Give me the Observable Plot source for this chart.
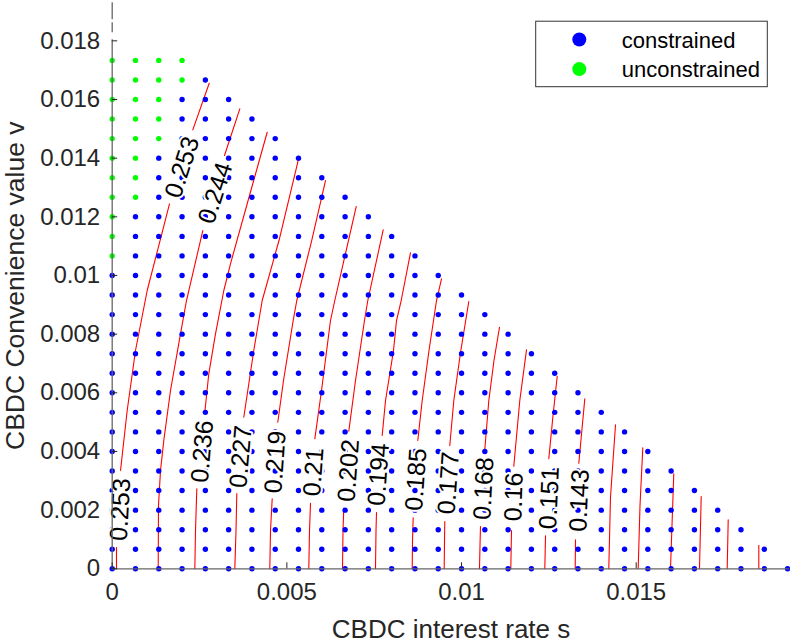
<!DOCTYPE html>
<html><head><meta charset="utf-8">
<script src="https://cdn.jsdelivr.net/npm/d3@7"></script>
<script src="https://cdn.jsdelivr.net/npm/@observablehq/plot@0.6"></script>
<style>
body{margin:0;background:#fff;}
#wrap{position:relative;width:790px;height:644px;}
#legend{position:absolute;left:0;top:0;pointer-events:none;}
</style></head><body><div id="wrap"></div>
<script>
// ---- grid of (s, v) points ----
const sValues = [0, 0.000667, 0.001333, 0.002, 0.002667, 0.003333, 0.004, 0.004667, 0.005333, 0.006,
  0.006667, 0.007333, 0.008, 0.008667, 0.009333, 0.01, 0.010667, 0.011333, 0.012, 0.012667,
  0.013333, 0.014, 0.014667, 0.015333, 0.016, 0.016667, 0.017333, 0.018, 0.018667, 0.019333];
const vValues = [0, 0.000667, 0.001333, 0.002, 0.002667, 0.003333, 0.004, 0.004667, 0.005333, 0.006,
  0.006667, 0.007333, 0.008, 0.008667, 0.009333, 0.01, 0.010667, 0.011333, 0.012, 0.012667,
  0.013333, 0.014, 0.014667, 0.015333, 0.016, 0.016667, 0.017333];
// highest row index present in each column
const columnTopRow = [26, 26, 26, 26, 25, 24, 23, 22, 21, 20, 19, 18, 17, 16, 15, 14, 13, 12, 11, 10, 9, 8, 7, 6, 5, 4, 3, 2, 1, 0];
// first unconstrained row in the leftmost columns
const unconstrainedFromRow = [16, 19, 22, 25];

// ---- contour lines (level, segments broken by labels) ----
const contourLevels = [0.253, 0.244, 0.236, 0.227, 0.219, 0.21, 0.202, 0.194, 0.185, 0.177, 0.168, 0.16, 0.151, 0.143, 0.134, 0.126, 0.117, 0.109, 0.1, 0.092];
const contourSegments = [
  [[[0.000123,0],[0.000123,0.000726]],
   [[0.000238,0.003351],[0.000429,0.005397],[0.000667,0.007442],[0.001002,0.009488],[0.001297,0.010851],[0.001640,0.012443]],
   [[0.002307,0.014966],[0.002777,0.016555]]],
  [[[0.001317,0],[0.001325,0.002158],[0.001383,0.003351],[0.001477,0.004374],[0.001669,0.006078],[0.001955,0.008011],[0.002127,0.009147],[0.002594,0.011533]],
   [[0.003215,0.014090],[0.003653,0.015682]]],
  [[[0.002365,0],[0.002385,0.001306],[0.002422,0.002727]],
   [[0.002651,0.005339],[0.002765,0.006648],[0.002957,0.008011],[0.003195,0.009488],[0.003386,0.010398],[0.003970,0.012897],[0.004437,0.014884]]],
  [[[0.003510,0],[0.003544,0.001306],[0.003567,0.002567]],
   [[0.003767,0.005168],[0.004053,0.007442],[0.004294,0.009147],[0.004775,0.011192],[0.005342,0.014011]]],
  [[[0.004511,0],[0.004532,0.001306],[0.004580,0.002386]],
   [[0.004740,0.004998],[0.004904,0.006419],[0.005181,0.008465],[0.005284,0.009147],[0.005711,0.011192],[0.006106,0.013238]]],
  [[[0.005628,0],[0.005648,0.001306],[0.005677,0.002236]],
   [[0.005800,0.004432],[0.005992,0.006078],[0.006249,0.008465],[0.006372,0.009147],[0.006678,0.010749],[0.006985,0.012351]]],
  [[[0.006593,0],[0.006607,0.001306],[0.006630,0.002066]],
   [[0.006773,0.004691],[0.006965,0.006419],[0.007222,0.008465],[0.007317,0.009147],[0.007758,0.011557]]],
  [[[0.007537,0],[0.007552,0.001306],[0.007566,0.001919]],
   [[0.007729,0.004544],[0.007824,0.005737],[0.008053,0.007442],[0.008139,0.008465],[0.008273,0.009147],[0.008539,0.010773]]],
  [[[0.008588,0],[0.008597,0.000965],[0.008616,0.001739]],
   [[0.008748,0.004374],[0.008874,0.005737],[0.009069,0.007442],[0.009284,0.009147],[0.009427,0.009886]]],
  [[[0.009504,0],[0.009513,0.000965],[0.009521,0.001613]],
   [[0.009664,0.004203],[0.009779,0.005737],[0.009971,0.007374],[0.010208,0.009112]]],
  [[[0.010514,0],[0.010529,0.000794],[0.010543,0.001442]],
   [[0.010666,0.004057],[0.010781,0.005737],[0.010929,0.007101],[0.011087,0.008236]]],
  [[[0.011410,0],[0.011431,0.001306]],
   [[0.011496,0.003498],[0.011668,0.005737],[0.011860,0.007466]]],
  [[[0.012384,0],[0.012404,0.001125]],
   [[0.012498,0.003750],[0.012619,0.005226],[0.012739,0.006566]]],
  [[[0.013254,0],[0.013263,0.000989]],
   [[0.013357,0.003600],[0.013529,0.005795]]],
  [[[0.014216,0],[0.014264,0.002441],[0.014408,0.004909]]],
  [[[0.015057,0],[0.015109,0.002158],[0.015189,0.004125]]],
  [[[0.015982,0],[0.016076,0.003239]]],
  [[[0.016812,0],[0.016861,0.002465]]],
  [[[0.017605,0],[0.017634,0.001670]]],
  [[[0.018510,0],[0.018510,0.000794]]]
];

// ---- contour labels ----
const labelTexts = ["0.253", "0.253", "0.244", "0.236", "0.227", "0.219", "0.21", "0.202", "0.194", "0.185", "0.177", "0.168", "0.16", "0.151", "0.143"];
const labelS = [0.000238, 0.002004, 0.002957, 0.002585, 0.003687, 0.004675, 0.005771, 0.006773, 0.007632, 0.008702, 0.009636, 0.010638, 0.011502, 0.012518, 0.013377];
const labelV = [0.002022, 0.013691, 0.012811, 0.003999, 0.003828, 0.003641, 0.003300, 0.003351, 0.003215, 0.003044, 0.002925, 0.002738, 0.002448, 0.002414, 0.002328];
const labelAngle = [-87, -72, -72, -85, -85, -86, -86, -86, -86, -86, -86, -87, -88, -87.5, -87.5];

// ---- axes ----
const xTicks = [0, 0.005, 0.01, 0.015];
const xTickLabels = ["0", "0.005", "0.01", "0.015"];
const yTicks = [0, 0.002, 0.004, 0.006, 0.008, 0.01, 0.012, 0.014, 0.016, 0.018];
const yTickLabels = ["0", "0.002", "0.004", "0.006", "0.008", "0.01", "0.012", "0.014", "0.016", "0.018"];
const xLabel = "CBDC interest rate s";
const yLabel = "CBDC Convenience value v";
const legendLabels = ["constrained", "unconstrained"];
const legendColors = ["#0000ff", "#00ff00"];

// ---- build tables ----
const dots = [];
sValues.forEach((s, i) => {
  for (let j = 0; j <= columnTopRow[i]; j++) {
    const from = unconstrainedFromRow[i];
    dots.push({s, v: vValues[j], constrained: from === undefined || j < from});
  }
});
const contourRows = [];
contourSegments.forEach((segs, li) => {
  segs.forEach((seg, si) => {
    seg.forEach(([s, v]) => contourRows.push({s, v, level: contourLevels[li], seg: li + "-" + si}));
  });
});
const labelRows = labelTexts.map((t, i) => ({text: t, s: labelS[i], v: labelV[i], angle: labelAngle[i]}));
const xFmt = new Map(xTicks.map((t, i) => [t, xTickLabels[i]]));
const yFmt = new Map(yTicks.map((t, i) => [t, yTickLabels[i]]));

const font = "'Liberation Sans', Arial, Helvetica, sans-serif";
const axisColor = "#262626";

const chart = Plot.plot({
  width: 790, height: 644,
  marginLeft: 111.7, marginRight: 0.6, marginTop: 2.2, marginBottom: 75.7,
  x: {domain: [0, 0.0194]},
  y: {domain: [0, 0.0193]},
  color: {type: "identity"},
  style: {fontFamily: font, background: "white", color: axisColor, overflow: "visible"},
  marks: [
    Plot.line(contourRows, {x: "s", y: "v", z: "seg", stroke: "#ff0000", strokeWidth: 1.1}),
    Plot.dot(dots, {x: "s", y: "v", r: 2.7, fill: d => d.constrained ? legendColors[0] : legendColors[1], stroke: null}),
    Plot.text(labelRows, {x: "s", y: "v", text: "text", rotate: "angle", fontSize: 25, fill: "black", stroke: "white", strokeWidth: 4, paintOrder: "stroke"}),
    Plot.ruleY([0], {stroke: "#666", strokeWidth: 1.3}),
    Plot.ruleX([0], {y1: 0, y2: 0.018, stroke: "#666", strokeWidth: 1.3}),
    Plot.ruleX([0], {y1: 0.0193, y2: 0.018, stroke: "#666", strokeWidth: 1.3, strokeDasharray: "17,3,10,7"}),
    Plot.axisX(xTicks, {tickSize: -6, tickPadding: 20, tickFormat: d => xFmt.get(d), fontSize: 24, color: axisColor, label: null}),
    Plot.axisY(yTicks, {tickSize: -5.5, tickPadding: 17.5, tickFormat: d => yFmt.get(d), fontSize: 24, color: axisColor, label: null}),
    Plot.text([xLabel], {text: d => d, frameAnchor: "bottom", textAnchor: "middle", lineAnchor: "middle", dy: 61, fontSize: 26, fill: axisColor}),
    Plot.text([yLabel], {text: d => d, frameAnchor: "left", textAnchor: "middle", lineAnchor: "middle", dx: -96.7, rotate: -90, fontSize: 26.5, fill: axisColor})
  ]
});
const wrap = document.getElementById("wrap");
wrap.appendChild(chart);

// ---- legend (boxed, top right) ----
const lg = d3.select(wrap).append("svg").attr("id", "legend").attr("width", 790).attr("height", 644)
  .style("font-family", font);
lg.append("rect").attr("x", 535.7).attr("y", 21.2).attr("width", 231.6).attr("height", 65.5)
  .attr("fill", "white").attr("stroke", "#333").attr("stroke-width", 1);
legendLabels.forEach((t, i) => {
  const cy = 39.5 + i * 29.6;
  lg.append("circle").attr("cx", 579.3).attr("cy", cy).attr("r", 7).attr("fill", legendColors[i]);
  lg.append("text").attr("x", 621.7).attr("y", cy + 8).attr("font-size", 22).attr("fill", "black").text(t);
});
</script></body></html>
